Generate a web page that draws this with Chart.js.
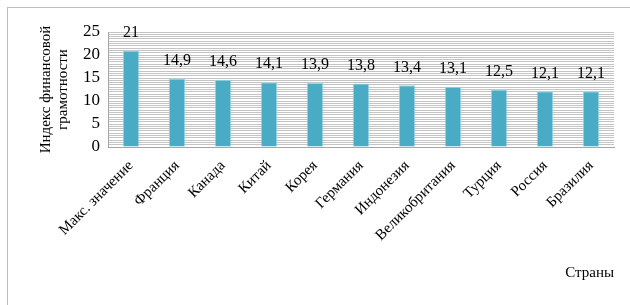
<!DOCTYPE html>
<html>
<head>
<meta charset="utf-8">
<script src="https://cdn.jsdelivr.net/npm/chart.js@4"></script>
<style>
  body { margin: 0; background: #fff; overflow: hidden; }
  #frame { position: absolute; left: 7px; top: 7px; width: 640px; height: 320px; border: 1px solid #bdbdbd; }
  #myChart { position: absolute; left: 0; top: 0; }
</style>
</head>
<body>
<div id="frame"></div>
<canvas id="myChart" width="630" height="305"></canvas>
<script>
var countries = ['Макс. значение', 'Франция', 'Канада', 'Китай', 'Корея', 'Германия', 'Индонезия', 'Великобритания', 'Турция', 'Россия', 'Бразилия'];
var scores = [21, 14.9, 14.6, 14.1, 13.9, 13.8, 13.4, 13.1, 12.5, 12.1, 12.1];
var yLabels = [0, 5, 10, 15, 20, 25];

var serif = "'Liberation Serif', 'DejaVu Serif', serif";

// value labels above the bars, with a comma as decimal mark
var barLabels = {
    id: 'barLabels',
    afterDatasetsDraw: function (chart) {
        var c = chart.ctx;
        var meta = chart.getDatasetMeta(0);
        c.save();
        c.font = '16px ' + serif;
        c.fillStyle = '#000';
        c.textAlign = 'center';
        c.textBaseline = 'bottom';
        meta.data.forEach(function (bar, i) {
            var txt = String(scores[i]).replace('.', ',');
            c.fillText(txt, bar.x, bar.y - 10);
        });
        c.restore();
    }
};

var ctx = document.getElementById('myChart').getContext('2d');
var myChart = new Chart(ctx, {
    type: 'bar',
    data: {
        labels: countries,
        datasets: [{
            data: scores,
            backgroundColor: '#4aabc5',
            borderColor: '#9fd8e6',
            borderWidth: 1,
            barPercentage: 0.36,
            categoryPercentage: 1
        }]
    },
    options: {
        responsive: false,
        animation: false,
        layout: { padding: { left: 34, right: 16, top: 32, bottom: 23 } },
        plugins: {
            legend: { display: false },
            tooltip: { enabled: false }
        },
        scales: {
            x: {
                // the layout caps the axis at half the height, give it the room it needs
                afterFit: function (scale) { scale.height = 135; },
                grid: { display: false },
                border: { display: true, color: '#a6a6a6' },
                ticks: {
                    color: '#000',
                    font: { family: serif, size: 15 },
                    maxRotation: 45,
                    minRotation: 45,
                    autoSkip: false,
                    padding: 2
                },
                title: {
                    display: true,
                    text: 'Страны',
                    align: 'end',
                    color: '#000',
                    font: { family: serif, size: 15 },
                    padding: { top: 21, bottom: 0 }
                }
            },
            y: {
                min: 0,
                max: 25,
                grid: { color: '#c4c4c4', drawTicks: false },
                border: { display: true, color: '#a6a6a6' },
                ticks: {
                    stepSize: 0.5,
                    autoSkip: false,
                    color: '#000',
                    font: { family: serif, size: 17 },
                    padding: 8,
                    callback: function (v) {
                        return yLabels.indexOf(v) >= 0 ? v : '';
                    }
                },
                title: {
                    display: true,
                    text: ['Индекс финансовой', 'грамотности'],
                    color: '#000',
                    font: { family: serif, size: 15, lineHeight: 1.1 },
                    padding: 4
                }
            }
        }
    },
    plugins: [barLabels]
});
</script>
</body>
</html>
